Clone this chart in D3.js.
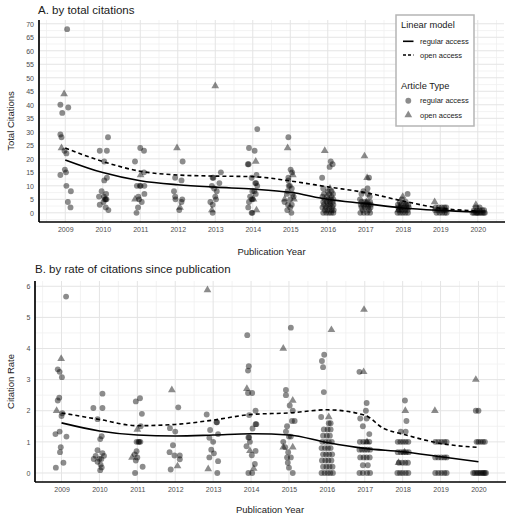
<!DOCTYPE html>
<html><head><meta charset="utf-8">
<script src="https://cdn.jsdelivr.net/npm/d3@7"></script>
<style>body{margin:0;background:#fff;} svg{display:block;font-family:"Liberation Sans",Arial,sans-serif;}</style>
</head><body><svg id="c" width="510" height="520"></svg>
<script>
// ---------- DATA ----------
const years = [2009,2010,2011,2012,2013,2014,2015,2016,2017,2018,2019,2020];
const yTicksA = [0,5,10,15,20,25,30,35,40,45,50,55,60,65,70];
const yTicksB = [0,1,2,3,4,5,6];

// Panel A: [publication year (jittered), total citations]
const regularA = [
 [2009.05,68],[2008.87,40],[2009.08,39],[2008.92,37],[2008.87,29],[2008.9,28],[2008.98,23],[2009.03,22],[2008.99,16],[2009.02,15],[2008.87,14],[2009.03,10],[2009.15,8],[2009.07,4],[2009.14,2],
 [2010.14,28],[2009.92,23],[2010.11,23],[2010.04,19],[2010.11,13],[2010.04,12],[2009.97,8],[2010.09,7],[2009.9,6],[2010.03,6],[2010.08,5],[2010.1,5],[2010.06,5],[2010.02,4],[2009.92,3],[2010.08,2],[2010.15,1],
 [2011.0,24],[2011.1,23],[2010.86,19],[2011.1,15],[2010.91,10],[2010.99,10],[2011.01,10],[2011.11,10],[2011.11,7],[2010.95,6],[2010.97,5],[2011.04,4],[2010.94,2],[2010.9,0],
 [2012.13,19],[2011.93,13],[2012.1,12],[2011.9,8],[2011.93,6],[2012.12,5],[2011.94,5],[2012.1,4],[2012.04,1],
 [2013.15,15],[2012.93,13],[2012.95,13],[2013.11,11],[2012.91,10],[2012.97,9],[2013.04,8],[2013.0,6],[2013.02,5],[2012.87,4],[2012.93,3],[2012.93,0],
 [2014.12,31],[2013.9,24],[2014.05,23],[2013.87,18],[2013.89,18],[2014.1,14],[2013.97,13],[2014.07,11],[2014.09,11],[2014.12,10],[2014.04,8],[2013.99,8],[2014.08,7],[2013.93,6],[2013.97,5],[2014.0,5],[2013.9,4],[2013.88,2],[2013.97,0],[2013.99,0],
 [2014.95,28],[2015.01,16],[2015.05,15],[2014.95,13],[2014.95,12],[2014.96,10],[2014.99,10],[2015.04,9],[2014.93,8],[2014.91,7],[2015.06,7],[2015.09,6],[2015.0,5],[2014.85,4],[2014.94,3],[2015.04,3],[2015.0,2],[2014.92,1],[2015.03,0],
 [2016.08,19],[2016.13,18],[2016.05,17],[2015.85,13],[2015.88,9],[2016.0,8],[2016.1,8],[2015.9,7],[2016.04,7],[2016.14,7],[2015.86,6],[2015.98,6],[2016.1,6],[2015.92,5],[2016.02,5],[2016.08,5],[2016.15,5],[2015.88,4],[2015.97,4],[2016.05,4],[2016.13,4],[2015.9,3],[2016.0,3],[2016.07,3],[2016.15,3],[2015.86,2],[2015.95,2],[2016.04,2],[2016.12,2],[2015.92,1],[2016.0,1],[2016.1,1],[2016.16,1],[2015.88,0],[2015.96,0],[2016.03,0],[2016.09,0],[2016.15,0],
 [2017.1,13],[2017.06,9],[2016.95,8],[2016.9,7],[2017.07,7],[2017.12,6],[2016.86,5],[2016.9,4],[2016.98,4],[2017.06,4],[2017.13,4],[2016.88,3],[2016.95,3],[2017.02,3],[2017.09,3],[2017.15,3],[2016.9,2],[2016.99,2],[2017.07,2],[2017.14,2],[2016.93,1],[2017.1,1],[2016.87,0],[2016.96,0],[2017.05,0],[2017.13,0],
 [2018.13,7],[2017.98,5],[2017.92,4],[2018.08,4],[2017.87,3],[2017.95,3],[2018.02,3],[2018.09,3],[2018.15,3],[2017.88,2],[2017.96,2],[2018.03,2],[2018.1,2],[2018.16,2],[2017.9,1],[2017.98,1],[2018.06,1],[2018.13,1],[2017.86,0],[2017.93,0],[2018.0,0],[2018.07,0],[2018.14,0],
 [2018.88,2],[2018.96,2],[2019.04,2],[2019.11,2],[2019.16,2],[2018.86,1],[2018.94,1],[2019.02,1],[2019.09,1],[2019.15,1],[2018.9,0],[2018.98,0],[2019.05,0],[2019.12,0],[2019.17,0],
 [2019.95,2],[2020.05,2],[2019.9,1],[2019.98,1],[2020.05,1],[2020.12,1],[2020.17,1],[2019.86,0],[2019.9,0],[2019.95,0],[2019.98,0],[2020.0,0],[2020.04,0],[2020.08,0],[2020.12,0],[2020.16,0],[2020.19,0]
];
const openA = [
 [2008.97,44],[2008.9,24],[2011.01,14],[2010.86,5],[2011.98,24],[2012.06,2],[2013.0,47],[2012.91,1],
 [2014.08,19],[2014.02,5],[2014.1,1],[2014.93,24],[2015.07,14],[2014.85,5],[2015.1,5],
 [2015.92,23],[2016.06,9],[2016.98,21],[2017.05,13],[2017.03,4],[2018.0,6],[2017.92,2],[2017.88,1],[2018.85,4],[2019.95,3]
];

// Panel B: [publication year (jittered), citation rate]
const regularB = [
 [2009.12,5.67],[2008.9,3.33],[2008.95,3.25],[2009.01,3.08],[2008.94,2.42],[2008.9,2.33],[2009.02,1.92],[2009.0,1.83],[2008.95,1.33],[2008.84,1.25],[2009.13,1.17],[2008.98,0.83],[2008.96,0.67],[2009.05,0.33],[2008.85,0.17],
 [2010.08,2.55],[2009.84,2.09],[2010.08,2.09],[2009.95,1.73],[2010.06,1.18],[2010.02,1.09],[2009.95,0.73],[2010.08,0.64],[2010.12,0.55],[2009.9,0.55],[2009.85,0.45],[2010.0,0.45],[2010.05,0.45],[2009.95,0.36],[2010.03,0.27],[2010.06,0.18],[2010.02,0.09],
 [2011.07,2.4],[2010.96,2.3],[2011.12,1.9],[2011.09,1.5],[2010.98,1.0],[2011.03,1.0],[2011.05,1.0],[2011.08,1.0],[2010.98,0.7],[2010.93,0.6],[2011.0,0.5],[2010.96,0.4],[2011.14,0.2],[2010.94,0],
 [2012.08,2.11],[2011.86,1.44],[2012.0,1.33],[2011.94,0.89],[2011.85,0.67],[2012.12,0.56],[2011.98,0.56],[2012.12,0.44],[2011.88,0.11],
 [2012.83,1.88],[2013.09,1.63],[2013.1,1.63],[2012.92,1.38],[2013.13,1.25],[2012.9,1.13],[2013.0,1.0],[2012.95,0.75],[2013.02,0.63],[2012.9,0.5],[2013.13,0.38],[2013.11,0],
 [2013.9,4.43],[2013.94,3.43],[2013.92,3.29],[2013.92,2.57],[2014.03,2.57],[2014.12,2.0],[2013.95,1.86],[2014.12,1.57],[2014.14,1.57],[2014.04,1.43],[2013.93,1.14],[2013.95,1.14],[2013.97,1.0],[2013.88,0.86],[2014.12,0.71],[2014.02,0.57],[2014.1,0.29],[2013.93,0],[2014.03,0],
 [2015.05,4.67],[2014.92,2.67],[2014.92,2.5],[2015.02,2.17],[2015.1,2.0],[2015.08,1.67],[2015.15,1.67],[2014.95,1.5],[2014.92,1.33],[2015.0,1.17],[2015.05,1.17],[2014.85,1.0],[2014.9,0.83],[2014.98,0.67],[2014.95,0.5],[2015.05,0.5],[2014.97,0.33],[2015.0,0.17],[2015.1,0],
 [2015.93,3.8],[2015.87,3.6],[2015.9,3.4],[2015.92,2.6],[2015.85,1.8],[2016.05,1.6],[2016.1,1.6],[2015.92,1.4],[2016.02,1.4],[2016.1,1.4],[2015.9,1.2],[2016.0,1.2],[2016.08,1.2],[2015.88,1.0],[2015.97,1.0],[2016.05,1.0],[2016.13,1.0],[2015.86,0.8],[2015.95,0.8],[2016.03,0.8],[2016.1,0.8],[2015.9,0.6],[2015.98,0.6],[2016.06,0.6],[2016.14,0.6],[2015.87,0.4],[2015.96,0.4],[2016.04,0.4],[2016.12,0.4],[2015.9,0.2],[2015.99,0.2],[2016.07,0.2],[2016.15,0.2],[2015.86,0],[2015.94,0],[2016.02,0],[2016.09,0],[2016.16,0],
 [2016.86,3.25],[2017.05,2.25],[2017.03,2.0],[2016.88,1.75],[2017.05,1.75],[2016.95,1.5],[2017.12,1.25],[2016.87,1.0],[2016.96,1.0],[2017.04,1.0],[2017.12,1.0],[2016.86,0.75],[2016.93,0.75],[2017.0,0.75],[2017.07,0.75],[2017.14,0.75],[2016.88,0.5],[2016.97,0.5],[2017.05,0.5],[2017.13,0.5],[2016.95,0.25],[2017.08,0.25],[2016.86,0],[2016.95,0],[2017.06,0],[2017.14,0],
 [2018.06,2.33],[2018.1,1.67],[2017.95,1.33],[2018.08,1.33],[2017.87,1.0],[2017.94,1.0],[2018.01,1.0],[2018.08,1.0],[2018.15,1.0],[2017.87,0.67],[2017.95,0.67],[2018.02,0.67],[2018.09,0.67],[2018.16,0.67],[2017.9,0.33],[2017.99,0.33],[2018.07,0.33],[2018.14,0.33],[2017.86,0],[2017.93,0],[2018.0,0],[2018.08,0],[2018.15,0],
 [2018.86,1.0],[2018.94,1.0],[2019.02,1.0],[2019.1,1.0],[2019.16,1.0],[2018.86,0.5],[2018.94,0.5],[2019.02,0.5],[2019.1,0.5],[2019.16,0.5],[2018.86,0],[2018.94,0],[2019.02,0],[2019.1,0],[2019.16,0],
 [2019.93,2],[2020.0,2],[2019.95,1],[2020.0,1],[2020.06,1],[2020.12,1],[2020.17,1],[2019.86,0],[2019.9,0],[2019.95,0],[2019.99,0],[2020.03,0],[2020.07,0],[2020.11,0],[2020.14,0],[2020.17,0],[2020.2,0]
];
const openB = [
 [2008.99,3.67],[2008.87,2.0],[2011.0,1.4],[2010.86,0.5],[2011.91,2.67],[2012.06,0.22],[2012.85,5.88],[2012.87,0.13],
 [2013.89,2.71],[2013.97,0.71],[2014.07,0.14],[2014.85,4.0],[2015.1,2.33],[2014.85,0.83],[2015.1,0.83],
 [2016.12,4.6],[2016.05,1.8],[2016.98,5.25],[2016.97,3.25],[2017.06,1.0],[2018.07,2.0],[2018.05,0.67],[2017.89,0.33],[2018.85,2.0],[2019.93,3.0]
];

// Smoothed model curves (read at each year)
const smoothRegularA = [[2009,19.6],[2010,14.9],[2011,11.9],[2012,10.4],[2013,9.5],[2014,8.8],[2015,7.6],[2016,5.0],[2017,3.4],[2018,1.8],[2019,0.9],[2020,0.3]];
const smoothOpenA    = [[2009,24],[2010,19],[2011,15.4],[2012,14.0],[2013,13.6],[2014,13.4],[2015,11.8],[2016,9.6],[2017,7.5],[2018,4.4],[2019,1.7],[2020,0.7]];
const smoothRegularB = [[2009,1.61],[2010,1.35],[2011,1.22],[2012,1.19],[2013,1.22],[2014,1.26],[2015,1.22],[2016,0.98],[2017,0.79],[2018,0.68],[2019,0.52],[2020,0.36]];
const smoothOpenB    = [[2009,1.93],[2010,1.72],[2011,1.52],[2012,1.56],[2013,1.7],[2014,1.88],[2015,1.93],[2016,2.03],[2017,1.86],[2017.5,1.43],[2018,1.25],[2019,0.95],[2020,0.82]];

// ---------- DRAWING ----------
const svg = d3.select("#c");
const FONT_TICK = 7, TICK_COLOR = "#4d4d4d";

function panel(o){
  const g = svg.append("g");
  const x = d3.scaleLinear().domain([2008.3,2020.7]).range([o.left,o.right]);
  const y = d3.scaleLinear().domain(o.yDomain).range([o.bottom,o.top]);

  const xMinor = d3.range(2008.5,2021,1);
  g.append("g").selectAll("line").data(xMinor).join("line")
    .attr("x1",d=>x(d)).attr("x2",d=>x(d)).attr("y1",o.top).attr("y2",o.bottom)
    .attr("stroke","#f0f0f0").attr("stroke-width",0.8);
  g.append("g").selectAll("line").data(o.yMinor).join("line")
    .attr("x1",o.left).attr("x2",o.right).attr("y1",d=>y(d)).attr("y2",d=>y(d))
    .attr("stroke","#f0f0f0").attr("stroke-width",0.8);
  g.append("g").selectAll("line").data(years).join("line")
    .attr("x1",d=>x(d)).attr("x2",d=>x(d)).attr("y1",o.top).attr("y2",o.bottom)
    .attr("stroke","#e4e4e4").attr("stroke-width",1);
  g.append("g").selectAll("line").data(o.yTicks).join("line")
    .attr("x1",o.left).attr("x2",o.right).attr("y1",d=>y(d)).attr("y2",d=>y(d))
    .attr("stroke","#e4e4e4").attr("stroke-width",1);

  const ax = g.append("g").attr("transform",`translate(0,${o.bottom})`)
    .call(d3.axisBottom(x).tickValues(years).tickFormat(d3.format("d")).tickSize(0).tickPadding(5.5));
  const ay = g.append("g").attr("transform",`translate(${o.left},0)`)
    .call(d3.axisLeft(y).tickValues(o.yTicks).tickFormat(d3.format("d")).tickSize(0).tickPadding(o.yPad));
  [ax,ay].forEach(a=>{
    a.select(".domain").remove();
    a.selectAll("text").attr("font-size",FONT_TICK).attr("fill",TICK_COLOR)
      .attr("font-family",'"Liberation Sans",Arial,sans-serif');
  });

  const circ = d3.symbol().type(d3.symbolCircle).size(27);
  const tri = d3.symbol().type(d3.symbolTriangle).size(26);
  g.append("g").selectAll("path").data(o.regular).join("path")
    .attr("d",circ).attr("transform",d=>`translate(${x(d[0])},${y(d[1])})`)
    .attr("fill","#000").attr("fill-opacity",0.45);
  g.append("g").selectAll("path").data(o.open).join("path")
    .attr("d",tri).attr("transform",d=>`translate(${x(d[0])},${y(d[1])})`)
    .attr("fill","#000").attr("fill-opacity",0.45);

  const line = d3.line().x(d=>x(d[0])).y(d=>y(d[1])).curve(d3.curveMonotoneX);
  g.append("path").datum(o.smoothReg).attr("d",line).attr("fill","none")
    .attr("stroke","#000").attr("stroke-width",1.6);
  g.append("path").datum(o.smoothOpen).attr("d",line).attr("fill","none")
    .attr("stroke","#000").attr("stroke-width",1.6).attr("stroke-dasharray","4,3");

  g.append("line").attr("x1",o.left).attr("x2",o.left).attr("y1",o.top).attr("y2",o.bottom)
    .attr("stroke","#000").attr("stroke-width",1.7);
  g.append("line").attr("x1",o.left).attr("x2",o.right+1).attr("y1",o.bottom).attr("y2",o.bottom)
    .attr("stroke","#000").attr("stroke-width",1.7);

  g.append("text").attr("x",o.titleX).attr("y",o.titleY).attr("font-size",11.5).attr("fill","#1a1a1a").text(o.title);
  g.append("text").attr("x",(o.left+o.right)/2).attr("y",o.xTitleY).attr("text-anchor","middle")
    .attr("font-size",9.5).attr("fill","#1a1a1a").text("Publication Year");
  g.append("text").attr("transform",`translate(13.5,${(o.top+o.bottom)/2}) rotate(-90)`)
    .attr("text-anchor","middle").attr("font-size",9.5).attr("fill","#1a1a1a").text(o.yTitle);
}

panel({left:39,right:504,top:20,bottom:222,yDomain:[-3.4,71.4],yTicks:yTicksA,
  yMinor:d3.range(-2.5,71,5),yPad:5,regular:regularA,open:openA,
  smoothReg:smoothRegularA,smoothOpen:smoothOpenA,
  title:"A. by total citations",titleX:38,titleY:14,xTitleY:254.5,yTitle:"Total Citations"});

panel({left:35,right:505,top:281,bottom:482,yDomain:[-0.29,6.17],yTicks:yTicksB,
  yMinor:d3.range(0.5,6.2,1),yPad:4.5,regular:regularB,open:openB,
  smoothReg:smoothRegularB,smoothOpen:smoothOpenB,
  title:"B. by rate of citations since publication",titleX:35,titleY:273,xTitleY:513,yTitle:"Citation Rate"});

// legend
const lg = svg.append("g");
lg.append("rect").attr("x",396).attr("y",15).attr("width",78).attr("height",111)
  .attr("fill","#fff").attr("stroke","#b5b5b5").attr("stroke-width",1.5);
lg.append("text").attr("x",401).attr("y",27.6).attr("font-size",9.3).attr("fill","#1a1a1a").text("Linear model");
lg.append("line").attr("x1",403).attr("x2",413.5).attr("y1",41.3).attr("y2",41.3).attr("stroke","#000").attr("stroke-width",1.6);
lg.append("line").attr("x1",403).attr("x2",413.5).attr("y1",55).attr("y2",55).attr("stroke","#000").attr("stroke-width",1.6).attr("stroke-dasharray","3,2");
lg.append("text").attr("x",420).attr("y",44).attr("font-size",7.5).attr("fill","#1a1a1a").text("regular access");
lg.append("text").attr("x",420).attr("y",57.7).attr("font-size",7.5).attr("fill","#1a1a1a").text("open access");
lg.append("text").attr("x",401).attr("y",89).attr("font-size",9.3).attr("fill","#1a1a1a").text("Article Type");
lg.append("path").attr("d",d3.symbol().type(d3.symbolCircle).size(27)).attr("transform","translate(408.3,100.7)").attr("fill","#000").attr("fill-opacity",0.45);
lg.append("path").attr("d",d3.symbol().type(d3.symbolTriangle).size(26)).attr("transform","translate(408.3,115)").attr("fill","#000").attr("fill-opacity",0.45);
lg.append("text").attr("x",420).attr("y",103.4).attr("font-size",7.5).attr("fill","#1a1a1a").text("regular access");
lg.append("text").attr("x",420).attr("y",117.7).attr("font-size",7.5).attr("fill","#1a1a1a").text("open access");
</script></body></html>
